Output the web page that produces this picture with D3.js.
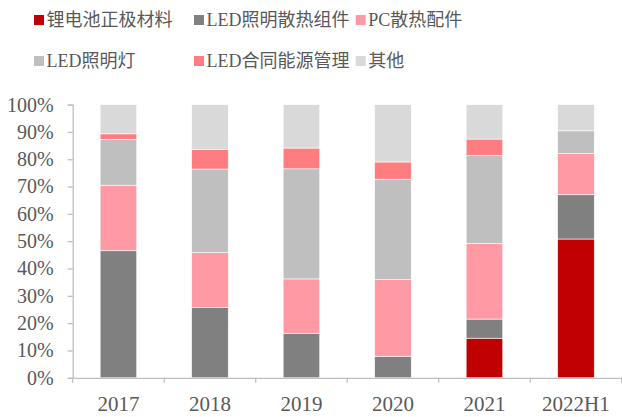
<!DOCTYPE html>
<html><head><meta charset="utf-8">
<script src="https://cdn.jsdelivr.net/npm/d3@7"></script>
<style>body{margin:0;background:#fff}svg{display:block}</style>
</head><body>
<svg id="c" width="622" height="417"></svg>
<script>
const categories = ["2017","2018","2019","2020","2021","2022H1"];
const seriesNames = ["锂电池正极材料","LED照明散热组件","PC散热配件","LED照明灯","LED合同能源管理","其他"];
const colors = ["#C00000","#808080","#FF99A3","#BFBFBF","#FF7C80","#D9D9D9"];
const lithium   = [0, 0, 0, 0, 14.5, 50.8];
const ledHeat   = [46.5, 25.8, 16.2, 7.9, 7.0, 16.2];
const pcHeat    = [24.0, 20.0, 20.0, 28.0, 27.7, 15.1];
const ledLight  = [16.8, 30.6, 40.3, 36.8, 32.1, 8.3];
const ledEnergy = [2.0, 7.2, 7.6, 6.3, 6.1, 0];
const others    = [10.7, 16.4, 15.9, 21.0, 12.6, 9.6];
const yTicks = [0,0.1,0.2,0.3,0.4,0.5,0.6,0.7,0.8,0.9,1.0];

const seriesVals = [lithium, ledHeat, pcHeat, ledLight, ledEnergy, others];
const rows = categories.map((c,i)=>{
  const r = {cat:c};
  seriesNames.forEach((s,j)=>{ r[s] = seriesVals[j][i]; });
  return r;
});
const stack = d3.stack().keys(seriesNames).offset(d3.stackOffsetExpand);
const stacked = stack(rows);

const svg = d3.select("#c");
const x = d3.scaleBand().domain(categories).range([72.7, 621.7]).paddingInner(0.6).paddingOuter(0.3);
const y = d3.scaleLinear().domain([0,1]).range([377.8, 104.6]);
const axisColor = "#BFBFBF", textColor = "#595959";
const serif = "'Liberation Serif','Times New Roman','Noto Sans CJK SC',serif";

// bars
svg.append("g").selectAll("g").data(stacked).join("g")
  .attr("fill",(d,i)=>colors[i])
  .selectAll("rect").data(d=>d).join("rect")
  .attr("x",d=>x(d.data.cat))
  .attr("width",x.bandwidth())
  .attr("y",d=>y(d[1]))
  .attr("height",d=>Math.max(0,y(d[0])-y(d[1])))
  .attr("stroke","#fff").attr("stroke-width",0.6);

// y axis
const ya = svg.append("g").attr("transform","translate(72.7,0)")
  .call(d3.axisLeft(y).tickValues(yTicks).tickSize(5).tickPadding(14).tickFormat(d3.format(".0%")));
ya.select(".domain").attr("stroke",axisColor).attr("stroke-width",1.3);
ya.selectAll(".tick line").attr("stroke",axisColor).attr("stroke-width",1.3);
ya.selectAll("text").attr("fill",textColor).style("font-family",serif).style("font-size","20px");

// x axis
const xa = svg.append("g").attr("transform",`translate(0,${y(0)})`)
  .call(d3.axisBottom(x).tickSize(0).tickPadding(18).tickSizeOuter(0));
xa.select(".domain").attr("stroke",axisColor).attr("stroke-width",1.3);
xa.selectAll("text").attr("fill",textColor).style("font-family",serif).style("font-size","21px");
const gap = (x.step()-x.bandwidth())/2;
const bounds = categories.map(c=>x(c)-gap).concat([x(categories[categories.length-1])+x.bandwidth()+gap]);
xa.selectAll("line.bd").data(bounds).join("line").attr("class","bd")
  .attr("x1",d=>d).attr("x2",d=>d).attr("y1",0).attr("y2",5)
  .attr("stroke",axisColor).attr("stroke-width",1.3);

// legend
const legPos = [[34,20],[194,20],[355.7,20],[34,61],[194,61],[355.7,61]];
const lg = svg.append("g").selectAll("g").data(seriesNames).join("g")
  .attr("transform",(d,i)=>`translate(${legPos[i][0]},${legPos[i][1]})`);
lg.append("rect").attr("x",0).attr("y",-5).attr("width",10).attr("height",10).attr("fill",(d,i)=>colors[i]);
lg.append("text").attr("x",12.5).attr("y",0).attr("dy","0.35em")
  .attr("fill",textColor).style("font-family",serif).style("font-size","18px").text(d=>d);
</script>
</body></html>
